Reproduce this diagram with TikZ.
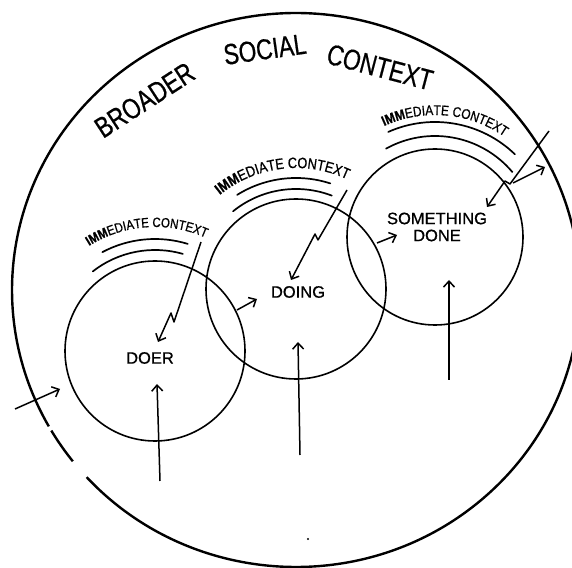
\documentclass[tikz,border=0pt]{standalone}
\usepackage{fontspec}
\setmainfont{Liberation Sans}
\newfontfamily\handfont[FakeStretch=0.78,FakeBold=0.6]{Liberation Sans}
\newfontfamily\imfont[FakeStretch=0.85,FakeBold=0.8]{Liberation Sans}
\newfontfamily\lblfont[FakeBold=0.7]{Liberation Sans}
\usetikzlibrary{arrows.meta,decorations.text}
\begin{document}
\begin{tikzpicture}[x=1pt,y=1pt,
  big/.style={line width=2.4pt},
  ring/.style={circle, draw, line width=1.6pt, inner sep=0pt},
  ctx/.style={line width=1.7pt, line cap=round},
  arr/.style={line width=1.5pt, line join=round, -{Straight Barb[length=6pt,width=11pt]}},
  lbl/.style={font=\lblfont\fontsize{16.5}{17}\selectfont, inner sep=0pt},
  titletext/.style={font=\handfont\fontsize{29}{29}\selectfont, inner sep=0pt, anchor=base west}]
\useasboundingbox (0,0) rectangle (572,567);
\clip (0,0) rectangle (572,567);

% broader social context (big circle, with small breaks on the lower left)
\coordinate (bc) at (296,277);
\draw[big] ([shift={(222.5:284 and 277)}]bc) arc[start angle=222.5, end angle=569.5, x radius=284, y radius=277];
\draw[big] ([shift={(210.5:284 and 277)}]bc) arc[start angle=210.5, end angle=218.2, x radius=284, y radius=277];

\node[titletext, rotate=33] (broader) at (103,428) {BROADER};
\node[titletext, rotate=8] (social) at (225,502) {SOCIAL};
\node[titletext, rotate=-14.8] (context) at (325,504) {CONTEXT};

% the three circles
\node[ring, minimum size=180pt] (doerc) at (155,216) {};
\node[ring, minimum size=180pt] (doingc) at (296,278) {};
\node[ring, minimum size=176pt] (sdc) at (435,330) {};

\node[lbl] (doer) at (150,209) {DOER};
\node[lbl] (doing) at (298,275) {DOING};
\node[lbl, align=center] (sd) at (437,340) {SOMETHING\\DONE};

% immediate contexts
\draw[ctx] ([shift={(128:101)}]doerc.center) arc[start angle=128, end angle=74, radius=101];
\draw[ctx] ([shift={(118:112)}]doerc.center) arc[start angle=118, end angle=73, radius=112];
\path[decorate, decoration={text along path, text align=center,
  text={|\imfont\bfseries\fontsize{13.5}{13.5}\selectfont|IMM|\imfont\mdseries\fontsize{13.5}{13.5}\selectfont|EDIATE CONTEXT}}]
  ([shift={(123:124)}]doerc.center) arc[start angle=123, end angle=65, radius=124];

\draw[ctx] ([shift={(129:100)}]doingc.center) arc[start angle=129, end angle=69, radius=100];
\draw[ctx] ([shift={(122:111)}]doingc.center) arc[start angle=122, end angle=72, radius=111];
\path[decorate, decoration={text along path, text align=center,
  text={|\imfont\bfseries\fontsize{15}{15}\selectfont|IMM|\imfont\mdseries\fontsize{15}{15}\selectfont|EDIATE CONTEXT}}]
  ([shift={(130:121)}]doingc.center) arc[start angle=130, end angle=64, radius=121];

\draw[ctx] ([shift={(119:101)}]sdc.center) arc[start angle=119, end angle=40, radius=101];
\draw[ctx] ([shift={(114:115)}]sdc.center) arc[start angle=114, end angle=46, radius=115];
\path[decorate, decoration={text along path, text align=center,
  text={|\imfont\bfseries\fontsize{14}{14}\selectfont|IMM|\imfont\mdseries\fontsize{14}{14}\selectfont|EDIATE CONTEXT}}]
  ([shift={(115:122)}]sdc.center) arc[start angle=115, end angle=55, radius=122];

% zigzag arrows from the immediate contexts
\coordinate (z1s) at (201,325); \coordinate (z1a) at (174,245);
\coordinate (z1b) at (171,254); \coordinate (z1e) at (158,225);
\draw[arr] (z1s) -- (z1a) -- (z1b) -- (z1e);

\coordinate (z2s) at (347,377); \coordinate (z2a) at (318,327);
\coordinate (z2b) at (315,333); \coordinate (z2e) at (291,287);
\draw[arr] (z2s) -- (z2a) -- (z2b) -- (z2e);

\coordinate (z3s) at (549,436); \coordinate (z3a) at (510,383);
\coordinate (z3b) at (505,386); \coordinate (z3e) at (487,360);
\draw[arr] (z3s) -- (z3a) -- (z3b) -- (z3e);
\coordinate (z3t) at (513,384); \coordinate (z3u) at (545,400);
\draw[arr] (z3t) -- (z3u);

% arrows between the circles
\coordinate (p1) at (237,257); \coordinate (p2) at (257,268);
\draw[arr] (p1) -- (p2);
\coordinate (q1) at (377,324); \coordinate (q2) at (397,332);
\draw[arr] (q1) -- (q2);

% arrow from outside
\coordinate (l1) at (15,158); \coordinate (l2) at (60,178);
\draw[arr] (l1) -- (l2);

% upward arrows
\coordinate (u1) at (160,86);  \coordinate (u1e) at (157,183);
\draw[arr] (u1) -- (u1e);
\coordinate (u2) at (300,112); \coordinate (u2e) at (298,225);
\draw[arr] (u2) -- (u2e);
\coordinate (u3) at (449,187); \coordinate (u3e) at (449,287);
\draw[arr] (u3) -- (u3e);

\fill (308,28) circle (1.1);
\end{tikzpicture}
\end{document}
